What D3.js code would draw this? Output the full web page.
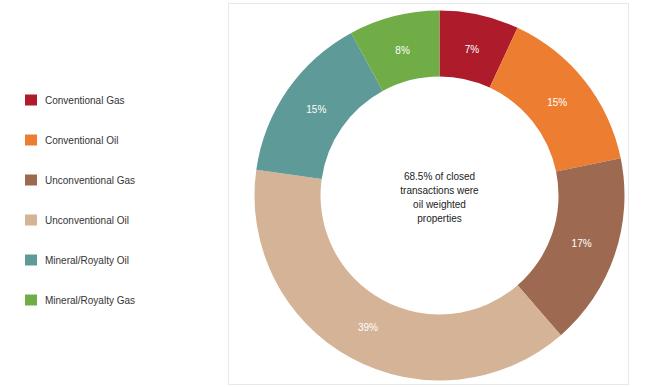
<!DOCTYPE html>
<html>
<head>
    <title>Closed Transactions Donut</title>
    <style>
        body { margin: 0; background: #fff; }
        text { font-family: "Liberation Sans", Arial, sans-serif; }
        .panel { fill: none; stroke: #e8e8e8; stroke-width: 1; }
        .legend-label { font-size: 10px; fill: #333; }
        .slice-label { font-size: 10px; fill: #fff; }
        .center-text { font-size: 10px; fill: #222; }
    </style>
</head>
<body>
    <script src="https://d3js.org/d3.v7.min.js"></script>
    <script>
        // chart data
        const categories = ["Conventional Gas", "Conventional Oil", "Unconventional Gas",
                            "Unconventional Oil", "Mineral/Royalty Oil", "Mineral/Royalty Gas"];
        const shares = [7, 15, 17, 39, 15, 8];
        const colors = ["#ae1c2b", "#ed7d31", "#9d6a51", "#d4b396", "#5e9a97", "#70ad47"];
        const centerLines = ["68.5% of closed", "transactions were", "oil weighted", "properties"];

        const width = 650;
        const height = 387;

        const svg = d3.select("body")
            .append("svg")
            .attr("width", width)
            .attr("height", height);

        // light frame round the donut
        svg.append("rect")
            .attr("class", "panel")
            .attr("x", 228.5)
            .attr("y", 3.5)
            .attr("width", 400)
            .attr("height", 381);

        const cx = 439.5, cy = 195.5;
        const outerR = 185, innerR = 119;

        const color = d3.scaleOrdinal().domain(categories).range(colors);

        const pie = d3.pie().sort(null).value(d => d.value);
        const arcs = pie(categories.map((c, i) => ({ name: c, value: shares[i] })));

        const arc = d3.arc().innerRadius(innerR).outerRadius(outerR);
        const labelArc = d3.arc().innerRadius(150).outerRadius(150);

        const g = svg.append("g").attr("transform", `translate(${cx},${cy})`);

        g.selectAll("path")
            .data(arcs)
            .enter()
            .append("path")
            .attr("d", arc)
            .attr("fill", d => color(d.data.name));

        g.selectAll(".slice-label")
            .data(arcs)
            .enter()
            .append("text")
            .attr("class", "slice-label")
            .attr("transform", d => `translate(${labelArc.centroid(d)})`)
            .attr("text-anchor", "middle")
            .attr("dy", "0.35em")
            .text(d => d.data.value + "%");

        // centre note
        g.append("text")
            .attr("class", "center-text")
            .attr("text-anchor", "middle")
            .selectAll("tspan")
            .data(centerLines)
            .enter()
            .append("tspan")
            .attr("x", 0)
            .attr("y", (d, i) => -19.5 + i * 14 + 3.5)
            .text(d => d);

        // legend
        const legendY = d3.scalePoint().domain(categories).range([100, 300]);

        const legend = svg.append("g")
            .selectAll("g")
            .data(categories)
            .enter()
            .append("g")
            .attr("transform", d => `translate(25,${legendY(d)})`);

        legend.append("rect")
            .attr("x", 0)
            .attr("y", -5.5)
            .attr("width", 12)
            .attr("height", 11)
            .attr("fill", d => color(d));

        legend.append("text")
            .attr("class", "legend-label")
            .attr("x", 20)
            .attr("dy", "0.35em")
            .text(d => d);
    </script>
</body>
</html>
